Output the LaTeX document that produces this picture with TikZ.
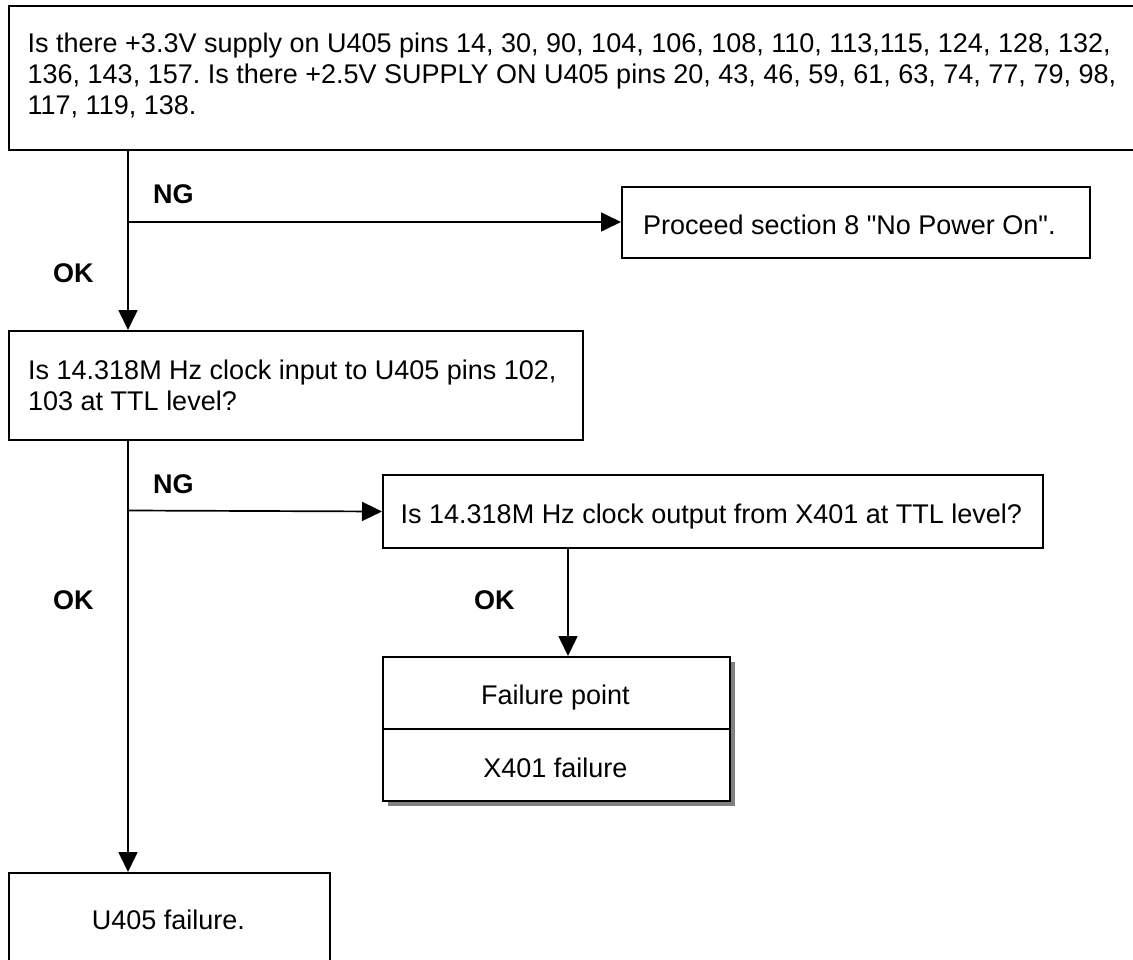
\documentclass[tikz,border=0pt]{standalone}
\usepackage{fontspec}
\setmainfont{Liberation Sans}[Ligatures=TeXOff]
\usetikzlibrary{arrows.meta}
\frenchspacing
\begin{document}
\begin{tikzpicture}[x=1pt,y=-1pt,
  box/.style={draw=black, line width=2pt, fill=white, inner sep=0pt, anchor=north west},
  shade/.style={fill=black!50, draw=none, inner sep=0pt, anchor=north west},
  txt/.style={inner sep=0pt, anchor=base west, font=\fontsize{27}{31}\selectfont},
  ctxt/.style={inner sep=0pt, anchor=base, font=\fontsize{27}{31}\selectfont},
  lbl/.style={inner sep=0pt, anchor=base west, font=\fontsize{27}{31}\selectfont\bfseries},
  link/.style={draw=black, line width=1.7pt, -{Triangle[length=20pt,width=19pt]}}]
\useasboundingbox (0,0) rectangle (1133,960);
\clip (0,0) rectangle (1133,960);

% frames
\node[box, minimum width=1150, minimum height=144] (top) at (8,5) {};
\node[box, minimum width=468, minimum height=71] (proceed) at (621,186) {};
\node[box, minimum width=574, minimum height=109] (q2) at (8,330) {};
\node[box, minimum width=660, minimum height=73] (q3) at (382,474) {};
\node[shade, minimum width=347, minimum height=144] (failshadow) at (388,662) {};
\node[box, minimum width=347, minimum height=72] (failtop) at (382,656) {};
\node[box, minimum width=347, minimum height=72] (failbot) at (382,728) {};
\node[box, minimum width=321, minimum height=150] (u405) at (8,872) {};

% texts
\node[txt] (t1) at (27.5,53) {Is there +3.3V supply on U405 pins 14, 30, 90, 104, 106, 108, 110, 113,115, 124, 128, 132,};
\node[txt] (t2) at (27.5,84) {136, 143, 157. Is there +2.5V SUPPLY ON U405 pins 20, 43, 46, 59, 61, 63, 74, 77, 79, 98,};
\node[txt] (t3) at (27.5,115) {117, 119, 138.};
\node[txt] (tp) at (643,235) {Proceed section 8 "No Power On".};
\node[txt] (q2a) at (28,379) {Is 14.318M Hz clock input to U405 pins 102,};
\node[txt] (q2b) at (28,410) {103 at TTL level?};
\node[txt] (q3a) at (400.5,523) {Is 14.318M Hz clock output from X401 at TTL level?};
\node[ctxt] (fa) at (555.5,704) {Failure point};
\node[ctxt] (fb) at (555.5,777) {X401 failure};
\node[ctxt] (ua) at (168.5,929) {U405 failure.};

% branch labels
\node[lbl] (ng1l) at (153,204) {NG};
\node[lbl] (ok1l) at (53,283) {OK};
\node[lbl] (ng2l) at (153,493) {NG};
\node[lbl] (ok2l) at (53,609) {OK};
\node[lbl] (ok3l) at (474,609) {OK};

% connectors
\coordinate (trunk) at (128,0);
\coordinate (drop) at (568,0);
\coordinate (ng1) at (128,222);
\coordinate (ng2) at (128,510.5);
\draw[link] (top.south -| trunk) -- (q2.north -| trunk);
\draw[link] (ng1) -- (proceed.west |- ng1);
\draw[link] (q2.south -| trunk) -- (u405.north -| trunk);
\draw[link] (ng2) -- (q3.west);
\draw[link] (q3.south -| drop) -- (failtop.north -| drop);
\end{tikzpicture}
\end{document}
